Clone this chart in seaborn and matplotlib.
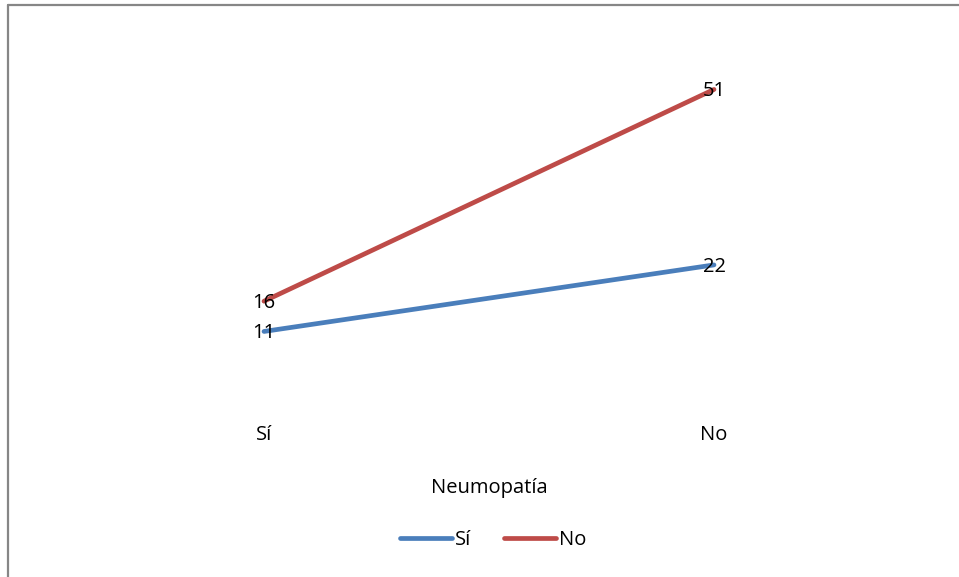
import matplotlib.pyplot as plt
import seaborn as sns
import pandas as pd
from matplotlib.lines import Line2D

# --- data ---
categories = ['Sí', 'No']
series_names = ['Sí', 'No']
values_si = [11, 22]
values_no = [16, 51]
colors = ['#4A7EBB', '#BE4B48']

df = pd.DataFrame({
    'Neumopatía': categories * 2,
    'Serie': [series_names[0]] * 2 + [series_names[1]] * 2,
    'Valor': values_si + values_no,
})
df['pos'] = [categories.index(c) for c in df['Neumopatía']]

sns.set_theme(style='white')
plt.rcParams['font.family'] = ['Open Sans', 'DejaVu Sans']
plt.rcParams['text.color'] = 'black'
FS = 14.5

fig = plt.figure(figsize=(9.59, 5.77), dpi=100)
ax = fig.add_axes([39 / 959, 1 - 398 / 577, 900 / 959, 363 / 577])

sns.lineplot(data=df, x='pos', y='Valor', hue='Serie', palette=colors,
             hue_order=series_names, linewidth=3.4, ax=ax, legend=False,
             solid_capstyle='round')

for _, row in df.iterrows():
    ax.annotate(str(row['Valor']), xy=(row['pos'], row['Valor']),
                xytext=(0, -2), textcoords='offset pixels',
                ha='center', va='center', fontsize=FS, color='black')

ax.set_xlim(-0.5, 1.5)
ax.set_ylim(0, 60)
ax.set_xticks([])
ax.set_yticks([])
ax.set_xlabel('')
ax.set_ylabel('')
for s in ax.spines.values():
    s.set_visible(False)

# category labels and axis title below the plot area
for i, c in enumerate(categories):
    ax.annotate(c, xy=(i, 0), xycoords=('data', 'axes fraction'),
                xytext=(0, -37), textcoords='offset pixels',
                ha='center', va='center', fontsize=FS, color='black')
fig.text(489 / 959, 1 - 488 / 577, 'Neumopatía', ha='center', va='center',
         fontsize=FS, color='black')

handles = [Line2D([0], [0], color=c, lw=3.4, solid_capstyle='round') for c in colors]
fig.legend(handles, series_names, loc='center', bbox_to_anchor=(493 / 959, 1 - 540 / 577),
           ncol=2, frameon=False, fontsize=FS, handlelength=2.6, handletextpad=0.15,
           columnspacing=1.6, labelcolor='black')

# chart border (top and left edges visible in the reference)
fig.add_artist(Line2D([8 / 959, 8 / 959], [0, 1 - 5 / 577], color='#868686', lw=1.6,
                      transform=fig.transFigure))
fig.add_artist(Line2D([8 / 959, 1], [1 - 5 / 577, 1 - 5 / 577], color='#868686', lw=1.6,
                      transform=fig.transFigure))

fig.savefig('out.png', dpi=100, facecolor='white')
